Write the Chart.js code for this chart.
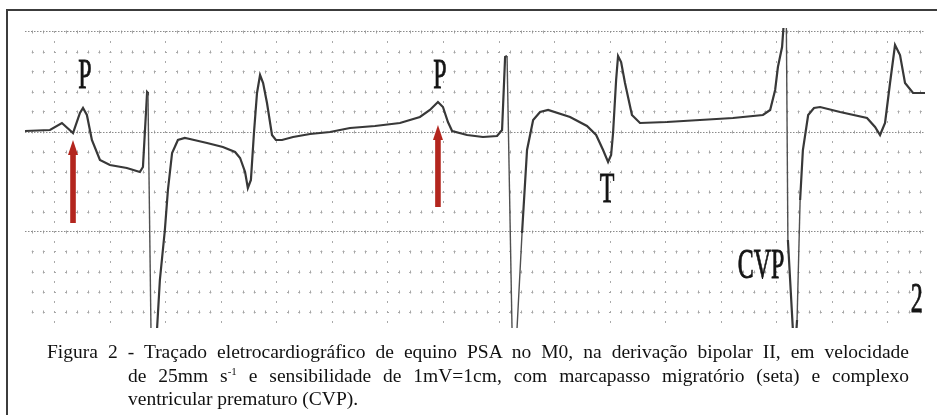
<!DOCTYPE html>
<html>
<head>
<meta charset="utf-8">
<script src="https://cdn.jsdelivr.net/npm/chart.js@4/dist/chart.umd.min.js"></script>
<style>
  html, body { margin: 0; padding: 0; background: #fff; }
  #wrap { position: relative; width: 937px; height: 415px; overflow: hidden; }
  #ecg { position: absolute; left: 0; top: 0; }
  #frame { position: absolute; left: 6px; top: 9px; width: 940px; height: 420px;
           border-left: 2px solid #3c3c3c; border-top: 2px solid #3c3c3c; }
  .cap { position: absolute; font-family: "Liberation Serif", "Times New Roman", serif;
         font-size: 19.5px; line-height: 23px; color: #111; text-align: justify; text-align-last: justify; }
  .cap.last { text-align: left; text-align-last: left; }
  .cap sup { font-size: 11px; line-height: 0; vertical-align: 7px; }
</style>
</head>
<body>
<div id="wrap">
  <div id="frame"></div>
  <canvas id="ecg" width="937" height="415"></canvas>
  <div class="cap" style="left:47px; top:340px; width:862px;">Figura 2 - Traçado eletrocardiográfico de equino PSA no M0, na derivação bipolar II, em velocidade</div>
  <div class="cap" style="left:128px; top:364px; width:781px;">de 25mm s<sup>-1</sup> e sensibilidade de 1mV=1cm, com marcapasso migratório (seta) e complexo</div>
  <div class="cap last" style="left:128px; top:387px; width:781px;">ventricular prematuro (CVP).</div>
</div>
<script>
// ECG trace, lead II, 25 mm/s, 10 mm/mV  (time in s, amplitude in mV)
var traceTime = [
  -0.108, -0.018, 0.025, 0.065, 0.090, 0.101, 0.115, 0.133, 0.162, 0.198,
   0.259,  0.306, 0.317, 0.332, 0.335, 0.346, 0.353, 0.368, 0.378, 0.396,
   0.407,  0.422, 0.443, 0.468, 0.486, 0.548, 0.605, 0.649, 0.667, 0.685,
   0.695,  0.706, 0.717, 0.728, 0.739, 0.750, 0.764, 0.782, 0.796, 0.818,
   0.858,  0.919, 0.991,
   1.063,  1.153, 1.243, 1.315, 1.351, 1.380, 1.398, 1.416, 1.431, 1.485,
   1.542,  1.593, 1.611, 1.622, 1.629, 1.647, 1.654, 1.665, 1.683, 1.701,
   1.723,  1.748, 1.777, 1.856, 1.917, 1.950, 1.975, 1.993, 2.004, 2.011,
   2.022,  2.029, 2.040, 2.054, 2.079, 2.108, 2.205, 2.324, 2.443, 2.551,
   2.577,  2.595, 2.605, 2.620, 2.627, 2.634, 2.641, 2.659, 2.667, 2.674,
   2.685,  2.695, 2.714, 2.735, 2.757, 2.829, 2.926, 2.955, 2.973, 2.991,
   3.009,  3.027, 3.045, 3.063, 3.092, 3.135
];
var traceMv = [
   0.005,  0.010, 0.045, -0.005, 0.095, 0.120, 0.085, -0.040, -0.140, -0.165,
  -0.180, -0.200, -0.175, 0.200, 0.195, -0.99, -1.34, -0.98, -0.74, -0.49,
  -0.29,  -0.105, -0.04, -0.03, -0.035, -0.055, -0.075, -0.10, -0.13, -0.20,
  -0.28,  -0.24, -0.005, 0.195, 0.285, 0.245, 0.145, -0.015, -0.04, -0.04,
  -0.025, -0.01, 0.0,
   0.02,   0.03, 0.045, 0.075, 0.11, 0.15, 0.125, 0.05, 0.005, -0.015,
  -0.025, -0.02, 0.01, 0.375, 0.38, -0.99, -1.44, -0.98, -0.505, -0.09,
   0.06,   0.10, 0.11, 0.075, 0.03, -0.015, -0.09, -0.15, -0.115, -0.005,
   0.26,   0.38, 0.35, 0.245, 0.085, 0.045, 0.05, 0.06, 0.07, 0.085,
   0.11,   0.21, 0.325, 0.425, 0.56, 0.81, -0.54, -0.99, -1.09, -0.94,
  -0.34,  -0.09, 0.085, 0.12, 0.125, 0.10, 0.07, 0.025, -0.015, 0.045,
   0.245,  0.435, 0.385, 0.245, 0.195, 0.195
];

// wave labels (anchor = centre of text baseline)
var labelText = ['P', 'P', 'T', 'CVP', '2'];
var labelTime = [0.108, 1.387, 1.989, 2.544, 3.105];
var labelMv   = [0.22, 0.22, -0.35, -0.73, -0.90];

// red arrows (migrating pacemaker), tip and tail
var arrowTime  = [0.065, 1.380];
var arrowTipMv = [-0.04, 0.035];
var arrowEndMv = [-0.455, -0.375];

// paper grid
var X_MIN = -0.108, X_MAX = 3.135, Y_MIN = -0.98, Y_MAX = 0.52;
var smallBoxS = 0.04, smallBoxMv = 0.1;
var gridTimes = [], gridMv = [];
for (var i = -2; i * smallBoxS <= X_MAX; i++) gridTimes.push(+(i * smallBoxS).toFixed(2));
for (var j = -9; j <= 5; j++) gridMv.push(+(j * smallBoxMv).toFixed(1));

function isMajor(v, step) { var r = Math.abs(v / step - Math.round(v / step)); return r < 1e-6; }
function offsetFor(p0, period, d) {
  var s = ((p0 - d / 2) % period + period) % period;
  return (period - s) % period;
}

var pts = traceTime.map(function (t, k) { return { x: t, y: traceMv[k] }; });

var annot = {
  id: 'annot',
  afterDatasetsDraw: function (chart) {
    var c = chart.ctx, xs = chart.scales.x, ys = chart.scales.y;
    c.save();
    // arrows
    c.fillStyle = '#b3261e';
    for (var a = 0; a < arrowTime.length; a++) {
      var x = xs.getPixelForValue(arrowTime[a]);
      var yt = ys.getPixelForValue(arrowTipMv[a]);
      var ye = ys.getPixelForValue(arrowEndMv[a]);
      c.fillRect(x - 2.8, yt + 12, 5.6, ye - yt - 12);
      c.beginPath();
      c.moveTo(x, yt);
      c.lineTo(x + 5, yt + 15);
      c.lineTo(x - 5, yt + 15);
      c.closePath();
      c.fill();
    }
    // labels
    c.fillStyle = '#151515';
    c.strokeStyle = '#151515';
    c.lineWidth = 0.5;
    c.font = '24px "Liberation Serif", serif';
    c.textAlign = 'center';
    c.textBaseline = 'alphabetic';
    for (var l = 0; l < labelText.length; l++) {
      c.save();
      c.translate(xs.getPixelForValue(labelTime[l]), ys.getPixelForValue(labelMv[l]));
      c.scale(1, 1.75);
      c.fillText(labelText[l], 0, 0);
      c.strokeText(labelText[l], 0, 0);
      c.restore();
    }
    c.restore();
  }
};

new Chart(document.getElementById('ecg'), {
  type: 'line',
  plugins: [annot],
  data: {
    datasets: [{
      data: pts,
      borderColor: '#383838',
      borderWidth: 2.2,
      pointRadius: 0,
      tension: 0,
      clip: 0,
      segment: {
        borderWidth: function (ctx) {
          var dy = Math.abs(ctx.p1.y - ctx.p0.y);
          return dy > 90 ? 1.4 : 2.2;
        },
        borderColor: function (ctx) {
          var dy = Math.abs(ctx.p1.y - ctx.p0.y);
          return dy > 90 ? '#505050' : '#383838';
        }
      }
    }]
  },
  options: {
    responsive: false,
    animation: false,
    devicePixelRatio: 1,
    layout: { padding: { left: 25, right: 12, top: 28, bottom: 87 } },
    plugins: { legend: { display: false }, tooltip: { enabled: false } },
    scales: {
      x: {
        type: 'linear', min: X_MIN, max: X_MAX,
        afterBuildTicks: function (s) { s.ticks = gridTimes.map(function (v) { return { value: v }; }); },
        ticks: { display: false },
        grid: {
          drawTicks: false,
          lineWidth: 1,
          color: function (ctx) { return isMajor(ctx.tick.value, 0.2) ? '#8c8c8c' : '#a6a6a6'; }
        },
        border: {
          display: false,
          dash: function (ctx) { return isMajor(ctx.tick.value, 0.2) ? [1.5, 8.5] : [3, 17]; },
          dashOffset: function (ctx) {
            var ys = ctx.chart.scales.y, top = ctx.chart.chartArea.top;
            var rowPx = Math.abs(ys.getPixelForValue(0) - ys.getPixelForValue(smallBoxMv));
            var p0 = ys.getPixelForValue(0) - top;
            return isMajor(ctx.tick.value, 0.2) ? offsetFor(p0, rowPx / 2, 1.5) : offsetFor(p0, rowPx, 3);
          }
        }
      },
      y: {
        type: 'linear', min: Y_MIN, max: Y_MAX,
        afterBuildTicks: function (s) { s.ticks = gridMv.map(function (v) { return { value: v }; }); },
        ticks: { display: false },
        grid: {
          drawTicks: false,
          lineWidth: 1,
          color: function (ctx) { return isMajor(ctx.tick.value, 0.5) ? '#8c8c8c' : '#a6a6a6'; }
        },
        border: {
          display: false,
          dash: function (ctx) { return isMajor(ctx.tick.value, 0.5) ? [1.5, 1.5] : [2, 9.1]; },
          dashOffset: function (ctx) {
            var xs = ctx.chart.scales.x, left = ctx.chart.chartArea.left;
            var colPx = Math.abs(xs.getPixelForValue(smallBoxS) - xs.getPixelForValue(0));
            var p0 = xs.getPixelForValue(0) - left;
            return isMajor(ctx.tick.value, 0.5) ? 0 : offsetFor(p0, colPx, 2);
          }
        }
      }
    }
  }
});
</script>
</body>
</html>
